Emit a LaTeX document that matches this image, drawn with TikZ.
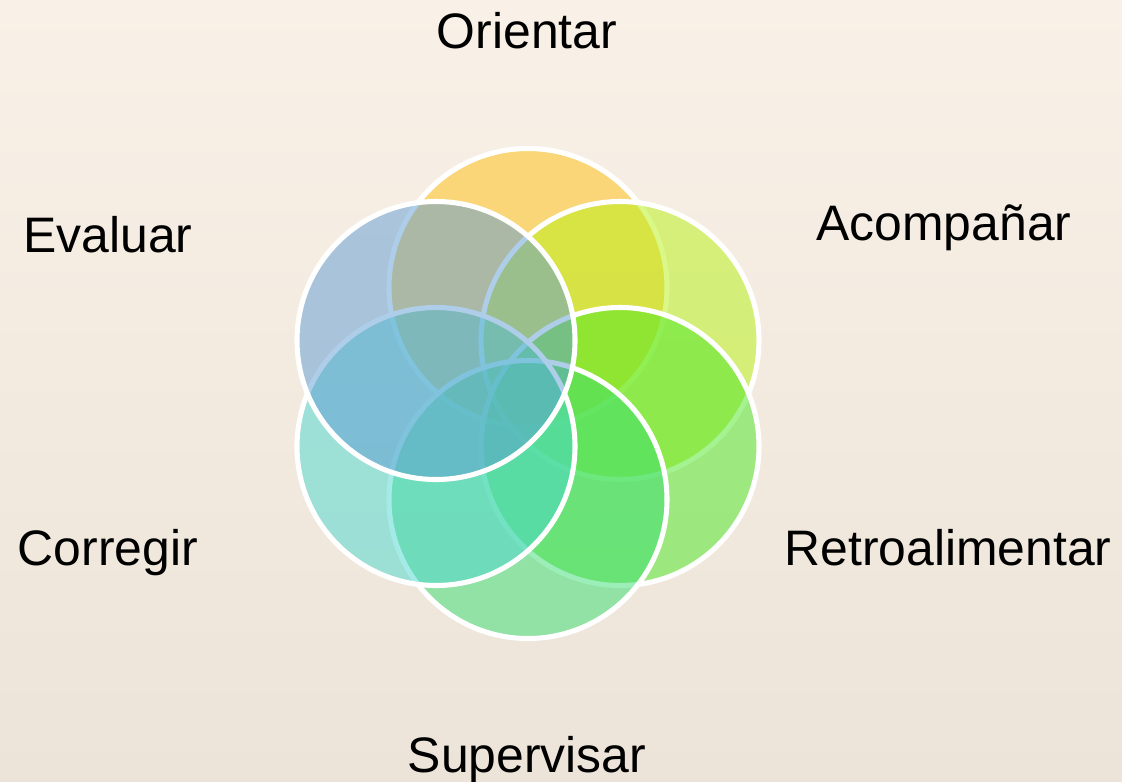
\documentclass[tikz,border=0pt]{standalone}
\usepackage{fontspec}
\setmainfont{Liberation Sans}
\definecolor{bgtop}{RGB}{249,241,231}
\definecolor{bgbot}{RGB}{236,228,216}
\definecolor{cOri}{RGB}{254,192,14}
\definecolor{cAco}{RGB}{182,242,18}
\definecolor{cRet}{RGB}{74,232,34}
\definecolor{cSup}{RGB}{56,222,112}
\definecolor{cCor}{RGB}{74,216,208}
\definecolor{cEva}{RGB}{94,156,212}
\begin{document}
\begin{tikzpicture}[x=0.75pt,y=-0.75pt,
  petal/.style={circle,minimum size=278*0.75pt,inner sep=0pt,draw=white,line width=3.8pt,fill opacity=0.5,draw opacity=1},
  lbl/.style={anchor=base,font=\fontsize{37.4}{41}\selectfont,text=black,inner sep=0pt}]
\shade[top color=bgtop,bottom color=bgbot] (0,0) rectangle (1122,782);
\useasboundingbox (0,0) rectangle (1122,782);
\node[petal,fill=cOri] (ori) at (528,287.5) {};
\node[petal,fill=cAco] (aco) at (620,340.5) {};
\node[petal,fill=cRet] (ret) at (620,446.5) {};
\node[petal,fill=cSup] (sup) at (528,499.5) {};
\node[petal,fill=cCor] (cor) at (436,446.5) {};
\node[petal,fill=cEva] (eva) at (436,340.5) {};
\node[lbl] (tOri) at (527,48) {Orientar};
\node[lbl] (tAco) at (944,240) {Acompañar};
\node[lbl] (tEva) at (108,252) {Evaluar};
\node[lbl] (tCor) at (108,565) {Corregir};
\node[lbl] (tRet) at (948,565) {Retroalimentar};
\node[lbl] (tSup) at (527,772) {Supervisar};
\end{tikzpicture}
\end{document}
